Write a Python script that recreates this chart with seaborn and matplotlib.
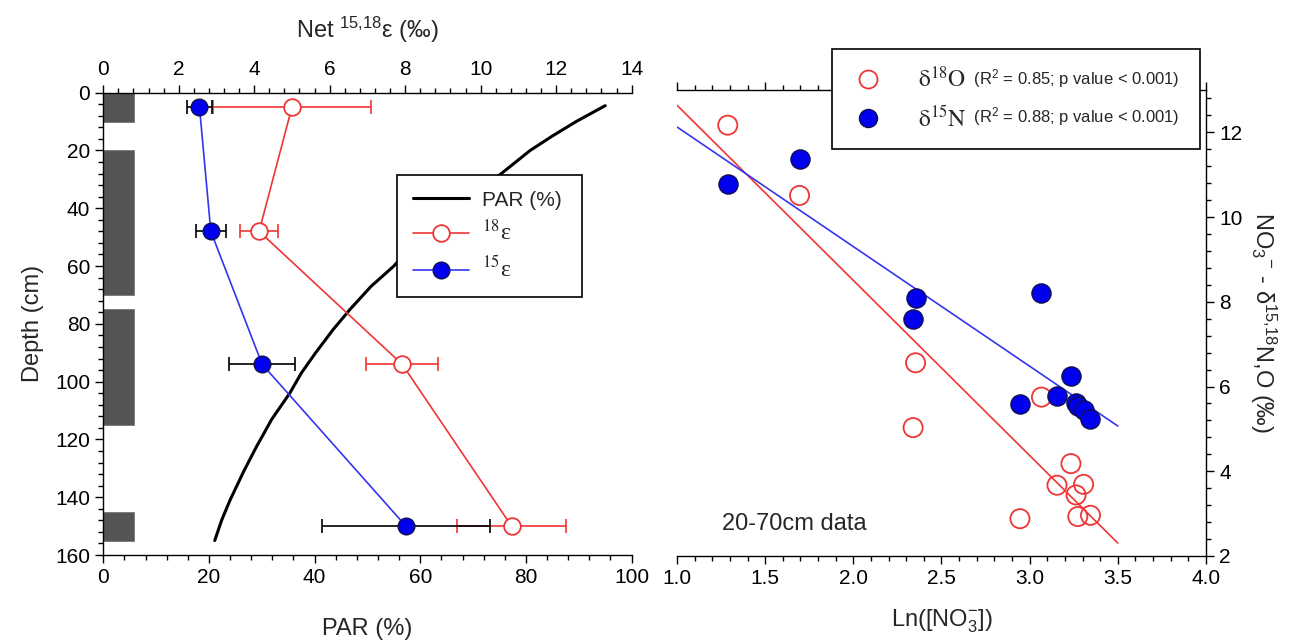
import numpy as np
import pandas as pd
import matplotlib
matplotlib.use("Agg")
import matplotlib.pyplot as plt
import seaborn as sns
from matplotlib.ticker import MultipleLocator, FormatStrFormatter
from matplotlib.lines import Line2D

# ---------------- data: left panel (depth profile) ----------------
depth_cm = [5, 48, 94, 150]
eps18 = [5.0, 4.13, 7.92, 10.82]
eps18_err = [2.1, 0.5, 0.95, 1.44]
eps15 = [2.55, 2.85, 4.21, 8.02]
eps15_err = [0.34, 0.4, 0.875, 2.22]

par_depth = [4.5, 10, 15, 20, 28.5, 35, 45, 52, 60, 67, 75, 82, 90, 97, 104, 113, 122.5, 131, 141, 148, 155]
par_pct = [95.0, 89.5, 85.0, 80.8, 75.0, 69.8, 63.0, 58.8, 55.0, 50.7, 46.7, 43.5, 40.2, 37.5,
           35.3, 31.9, 29.0, 26.6, 24.0, 22.4, 21.1]

bar_top = [0, 20, 75, 145]
bar_bottom = [10, 70, 115, 155]
bar_par_width = 5.9

# ---------------- data: right panel (isotopes vs ln NO3) ----------------
ln_no3 = [1.288, 1.695, 2.339, 2.353, 2.945, 3.067, 3.155, 3.234, 3.263, 3.273, 3.306, 3.345]
d18O = [12.17, 10.51, 5.03, 6.56, 2.88, 5.75, 3.67, 4.18, 3.44, 2.93, 3.69, 2.96]
d15N = [10.79, 11.36, 7.6, 8.08, 5.58, 8.2, 5.78, 6.25, 5.62, 5.55, 5.44, 5.23]

left_xticks = [0, 20, 40, 60, 80, 100]
top_xticks = [0, 2, 4, 6, 8, 10, 12, 14]
right_xticks = [1.0, 1.5, 2.0, 2.5, 3.0, 3.5, 4.0]
right_yticks = [2, 4, 6, 8, 10, 12]

# ---------------- style ----------------
sns.set_theme(style="ticks")
plt.rcParams["font.family"] = ["Liberation Sans", "DejaVu Sans"]
plt.rcParams["mathtext.fontset"] = "custom"
plt.rcParams["mathtext.rm"] = "Liberation Sans"
plt.rcParams["mathtext.it"] = "Liberation Sans:italic"
plt.rcParams["mathtext.bf"] = "Liberation Sans:bold"
plt.rcParams["mathtext.sf"] = "Liberation Sans"
plt.rcParams["axes.linewidth"] = 1.0
plt.rcParams["axes.edgecolor"] = "black"

RED = "#f03535"
BLUE = "#3535f0"
TICK_FS = 15
LAB_FS = 17

fig = plt.figure(figsize=(12.89, 6.4), dpi=100)
ax = fig.add_axes([0.0801, 0.1328, 0.4099, 0.7224])
ax2 = fig.add_axes([0.5252, 0.1313, 0.4104, 0.7281])


def style_ticks(a, which_axes):
    a.tick_params(axis=which_axes, which="major", direction="out", length=6, width=1,
                  colors="black", labelsize=TICK_FS)
    a.tick_params(axis=which_axes, which="minor", direction="out", length=3.5, width=1,
                  colors="black")


# ---------------- left panel ----------------
ax.barh(y=bar_top, width=bar_par_width, height=np.subtract(bar_bottom, bar_top), left=0,
        align="edge", color="#555555", edgecolor="#777777", linewidth=0.6, zorder=1)
sns.lineplot(x=par_pct, y=par_depth, sort=False, color="black", linewidth=2.2, ax=ax, zorder=2)
ax.set_xlim(0, 100)
ax.set_ylim(160, 0)
ax.set_xticks(left_xticks)
ax.xaxis.set_minor_locator(MultipleLocator(4))
ax.set_yticks(np.arange(0, 161, 20))
ax.yaxis.set_minor_locator(MultipleLocator(4))
style_ticks(ax, "both")
ax.spines["right"].set_visible(False)
ax.spines["top"].set_visible(False)
ax.set_xlabel("PAR (%)", fontsize=LAB_FS, labelpad=22)
ax.set_ylabel("Depth (cm)", fontsize=LAB_FS, labelpad=8)

axe = ax.twiny()
axe.set_xlim(0, 14)
axe.set_ylim(160, 0)
axe.set_xticks(top_xticks)
axe.xaxis.set_minor_locator(MultipleLocator(0.4))
style_ticks(axe, "x")
for s in ["right", "left", "bottom"]:
    axe.spines[s].set_visible(False)
axe.set_xlabel("Net $^{15{,}18}$ε (‰)", fontsize=LAB_FS, labelpad=16)

axe.errorbar(eps18, depth_cm, xerr=eps18_err, fmt="none", ecolor=RED, elinewidth=1.2,
             capsize=5, capthick=1.2, zorder=2)
axe.errorbar(eps15, depth_cm, xerr=eps15_err, fmt="none", ecolor="black", elinewidth=1.2,
             capsize=5, capthick=1.2, zorder=2)
sns.lineplot(x=eps18, y=depth_cm, sort=False, color=RED, linewidth=1.2, marker="o",
             markersize=12, markerfacecolor="white", markeredgecolor=RED,
             markeredgewidth=1.3, ax=axe, zorder=3)
sns.lineplot(x=eps15, y=depth_cm, sort=False, color=BLUE, linewidth=1.2, marker="o",
             markersize=12, markerfacecolor="#0000ee", markeredgecolor="#101050",
             markeredgewidth=1.0, ax=axe, zorder=4)

h_par = Line2D([], [], color="black", lw=2.2)
h_18 = Line2D([], [], color=RED, lw=1.2, marker="o", ms=12, mfc="white", mec=RED, mew=1.3)
h_15 = Line2D([], [], color=BLUE, lw=1.2, marker="o", ms=12, mfc="#0000ee", mec="#101050", mew=1.0)
leg1 = axe.legend(handles=[h_par, h_18, h_15],
                  labels=["PAR (%)", "$^{18}$ε", "$^{15}$ε"],
                  loc="upper left", bbox_to_anchor=(397.3 / 1289, 1 - 175 / 640, 184.4 / 1289, 0),
                  bbox_transform=fig.transFigure, mode="expand", borderaxespad=0,
                  fontsize=15, handlelength=2.7, handletextpad=0.6, labelspacing=0.5,
                  borderpad=0.75, fancybox=False, framealpha=1, edgecolor="black")
leg1.get_frame().set_linewidth(1.2)
for t in leg1.get_texts()[1:]:
    t.set_fontfamily(["Liberation Serif", "DejaVu Serif"])
    t.set_math_fontfamily("stix")
    t.set_fontsize(17)

# ---------------- right panel ----------------
ax2.set_xlim(1.0, 3.5)
sns.regplot(x=ln_no3, y=d18O, scatter=False, ci=None, truncate=False, ax=ax2,
            line_kws=dict(color=RED, lw=1.2, zorder=1))
sns.regplot(x=ln_no3, y=d15N, scatter=False, ci=None, truncate=False, ax=ax2,
            line_kws=dict(color=BLUE, lw=1.2, zorder=1))
sns.scatterplot(x=ln_no3, y=d18O, s=190, facecolor="none", edgecolor=RED, linewidth=1.3,
                ax=ax2, zorder=3)
sns.scatterplot(x=ln_no3, y=d15N, s=190, color="#0000ee", edgecolor="#101050", linewidth=1.0,
                ax=ax2, zorder=4)
ax2.set_xlim(1.0, 4.0)
ax2.set_ylim(2, 13)
ax2.set_xticks(right_xticks)
ax2.xaxis.set_major_formatter(FormatStrFormatter("%.1f"))
ax2.xaxis.set_minor_locator(MultipleLocator(0.1))
ax2.set_yticks(right_yticks)
ax2.yaxis.set_minor_locator(MultipleLocator(0.4))
ax2.yaxis.tick_right()
ax2.yaxis.set_label_position("right")
style_ticks(ax2, "both")
ax2.tick_params(axis="x", which="both", top=True, labeltop=False)
ax2.spines["left"].set_visible(False)
ax2.set_xlabel("Ln([NO$_3^{-}$])", fontsize=LAB_FS, labelpad=14)
ax2.set_ylabel("NO$_3$$^{-}$ - δ$^{15{,}18}$N,O (‰)", fontsize=LAB_FS, rotation=270, labelpad=26)
ax2.text(1.255, 2.75, "20-70cm data", fontsize=17, va="center", ha="left")

h_o = Line2D([], [], ls="none", marker="o", ms=13, mfc="white", mec=RED, mew=1.3)
h_n = Line2D([], [], ls="none", marker="o", ms=13, mfc="#0000ee", mec="#101050", mew=1.0)
leg2 = ax2.legend(handles=[h_o, h_n],
                  labels=[r"$\mathrm{\delta}^{18}\mathrm{O}$", r"$\mathrm{\delta}^{15}\mathrm{N}$"],
                  loc="upper left", bbox_to_anchor=(831.7 / 1289, 1 - 49.3 / 640, 368.3 / 1289, 0),
                  bbox_transform=fig.transFigure, mode="expand", borderaxespad=0,
                  fontsize=17, handlelength=1.6, handletextpad=1.3, labelspacing=0.55,
                  borderpad=0.75, fancybox=False, framealpha=1, edgecolor="black")
leg2.get_frame().set_linewidth(1.2)
paren = [" (R$^2$ = 0.85; p value < 0.001)", " (R$^2$ = 0.88; p value < 0.001)"]
for t, p in zip(leg2.get_texts(), paren):
    t.set_math_fontfamily("stix")
    ax2.annotate(p, xy=(1.0, 0.12), xycoords=t, xytext=(2, 0), textcoords="offset points",
                 ha="left", va="bottom", fontsize=12, zorder=10)

fig.savefig("out.png", dpi=100)
